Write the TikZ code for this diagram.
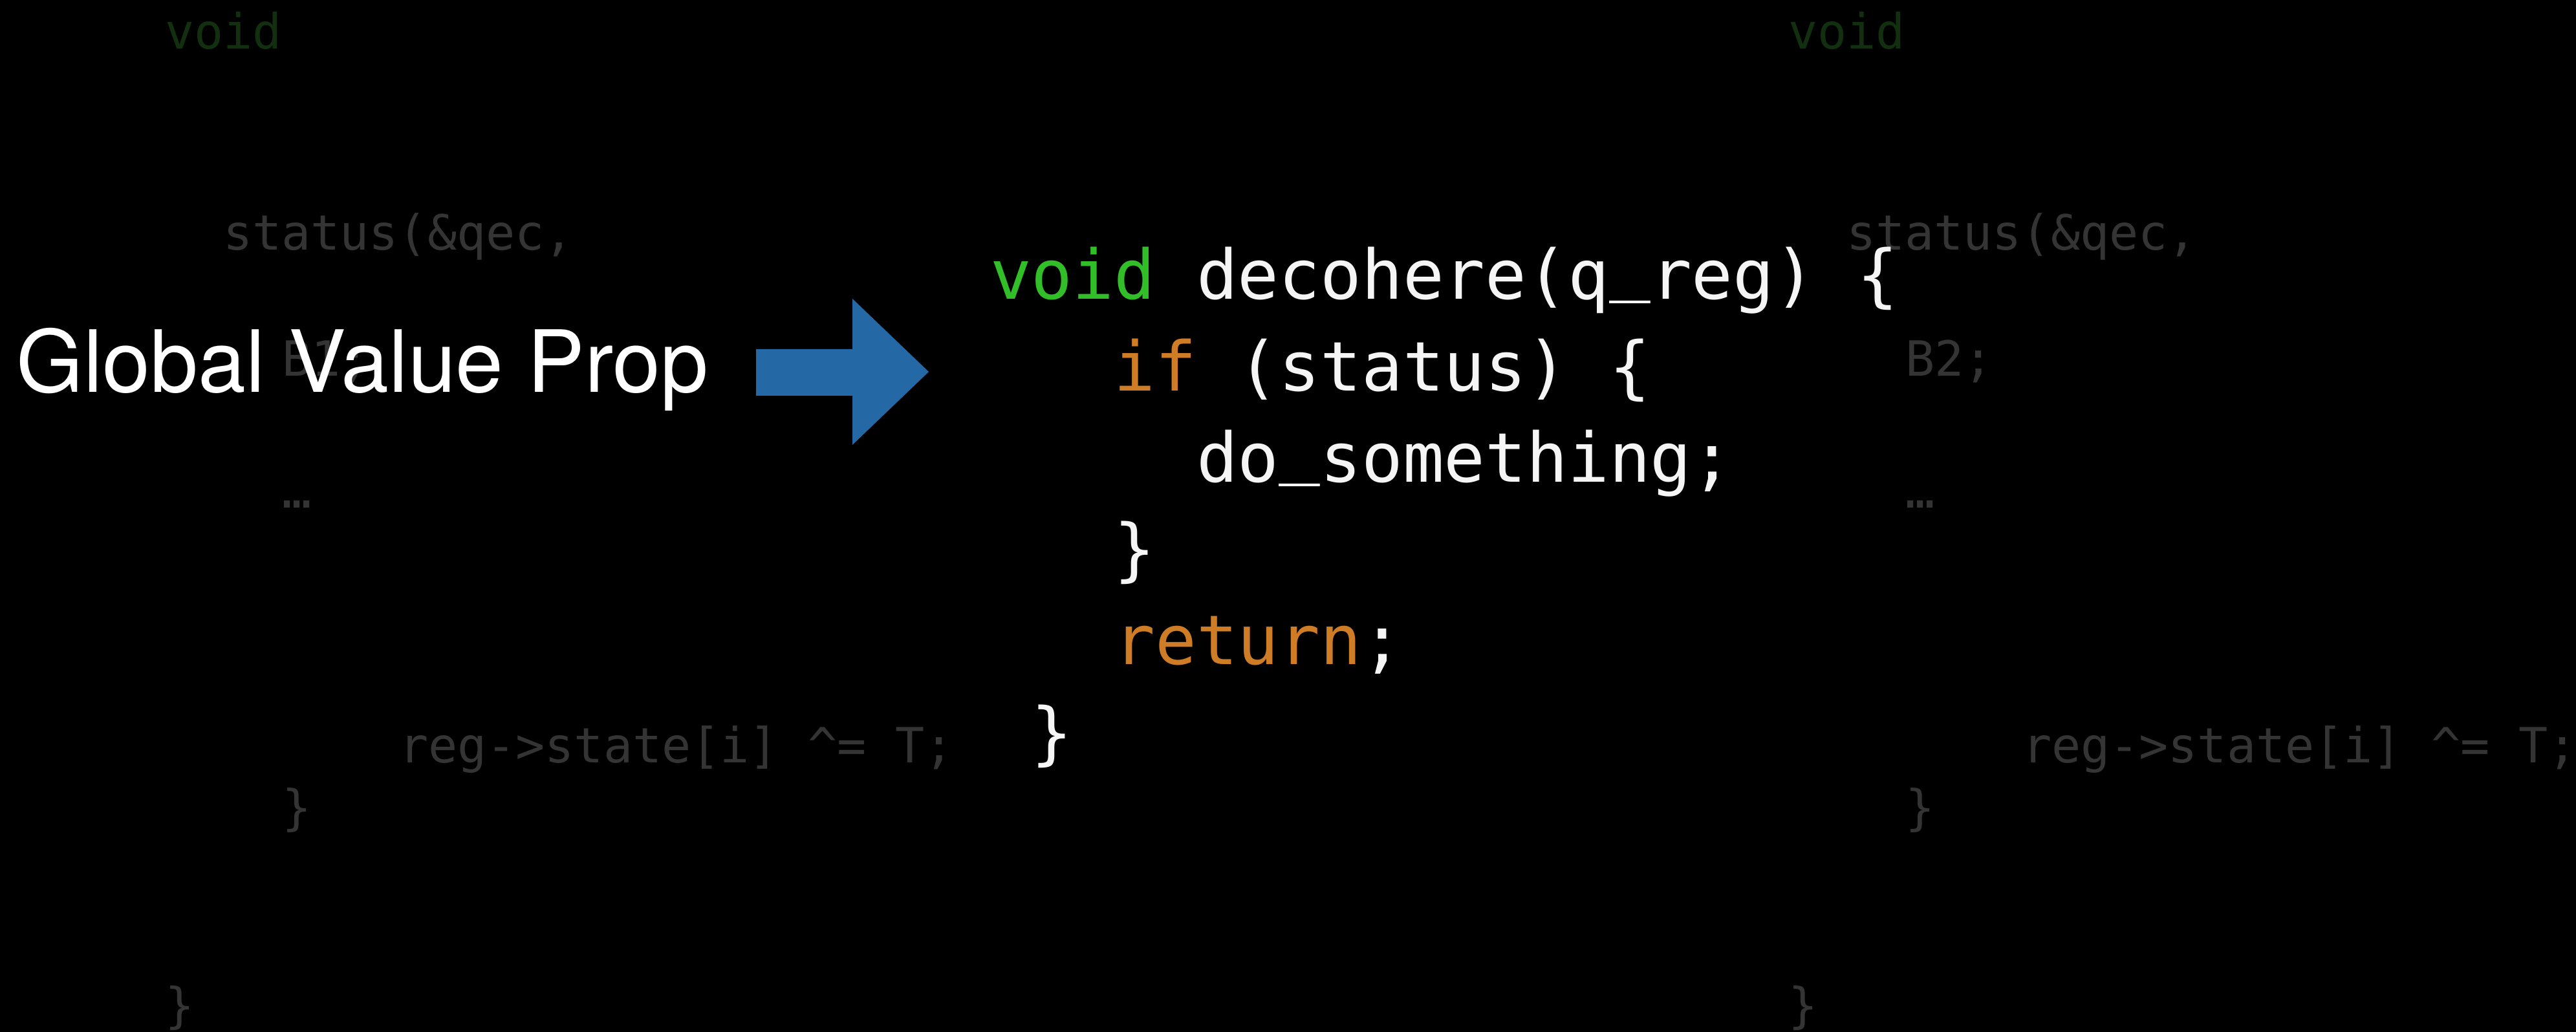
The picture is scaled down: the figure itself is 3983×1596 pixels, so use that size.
\documentclass[tikz,border=0pt]{standalone}
\usepackage{fontspec}
\newfontfamily\codefont{DejaVu Sans Mono}
\newfontfamily\gvfont{TeX Gyre Heros}
\newcommand{\ulow}{\raisebox{0.17em}{\_}}
\definecolor{cgreen}{RGB}{50,190,40}
\definecolor{corange}{RGB}{207,124,39}
\definecolor{cwhite}{RGB}{245,245,245}
\definecolor{fgray}{RGB}{52,52,52}
\definecolor{fgreen}{RGB}{18,48,15}
\definecolor{arrowblue}{RGB}{36,104,166}
\tikzset{
  maincode/.style={anchor=base west, inner sep=0pt, outer sep=0pt, text=cwhite,
    font=\codefont\fontsize{30.16pt}{36pt}\selectfont},
  fadecode/.style={anchor=base west, inner sep=0pt, outer sep=0pt, text=fgray,
    font=\codefont\fontsize{21.34pt}{26pt}\selectfont},
  fadekw/.style={fadecode, text=fgreen},
  titletext/.style={anchor=base west, inner sep=0pt, outer sep=0pt, text=white,
    font=\gvfont\fontsize{37.8pt}{44pt}\selectfont},
  bigarrow/.style={fill=arrowblue, draw=none}
}
\begin{document}
\begin{tikzpicture}[x=0.1mm, y=-0.1mm]
\useasboundingbox (0,0) rectangle (3983,1596);
\fill[black] (0,0) rectangle (3983,1596);

% faded left column
\node[fadekw]   (lvoid)   at (255,76)   {void};
\node[fadecode] (lstatus) at (345,387)  {status(\&qec,};
\node[fadecode] (lB)      at (436,582)  {B1;};
\node[fadecode] (ldots)   at (436,786)  {…};
\node[fadecode] (lreg)    at (617,1179) {reg->state[i] \textasciicircum= T;};
\node[fadecode] (lbr1)    at (436,1275) {\}};
\node[fadecode] (lbr2)    at (255,1581) {\}};

% faded right column
\node[fadekw]   (rvoid)   at (2765,76)   {void};
\node[fadecode] (rstatus) at (2855,387)  {status(\&qec,};
\node[fadecode] (rB)      at (2946,582)  {B2;};
\node[fadecode] (rdots)   at (2946,786)  {…};
\node[fadecode] (rreg)    at (3127,1179) {reg->state[i] \textasciicircum= T;};
\node[fadecode] (rbr1)    at (2946,1275) {\}};
\node[fadecode] (rbr2)    at (2765,1581) {\}};

% title and arrow
\node[titletext] (title) at (26,607) {Global Value Prop};
\fill[bigarrow] (1169,540) -- (1318,540) -- (1318,462) -- (1436,575)
  -- (1318,688) -- (1318,612) -- (1169,612) -- cycle;

% main code
\node[maincode] (c1) at (1531,463)    {\textcolor{cgreen}{void} decohere(q\ulow reg) \{};
\node[maincode] (c2) at (1722.4,604.5) {\textcolor{corange}{if} (status) \{};
\node[maincode] (c3) at (1850,746)    {do\ulow something;};
\node[maincode] (c4) at (1722.4,887)  {\}};
\node[maincode] (c5) at (1722.4,1028) {\textcolor{corange}{return};};
\node[maincode] (c6) at (1594.8,1170) {\}};
\end{tikzpicture}
\end{document}
